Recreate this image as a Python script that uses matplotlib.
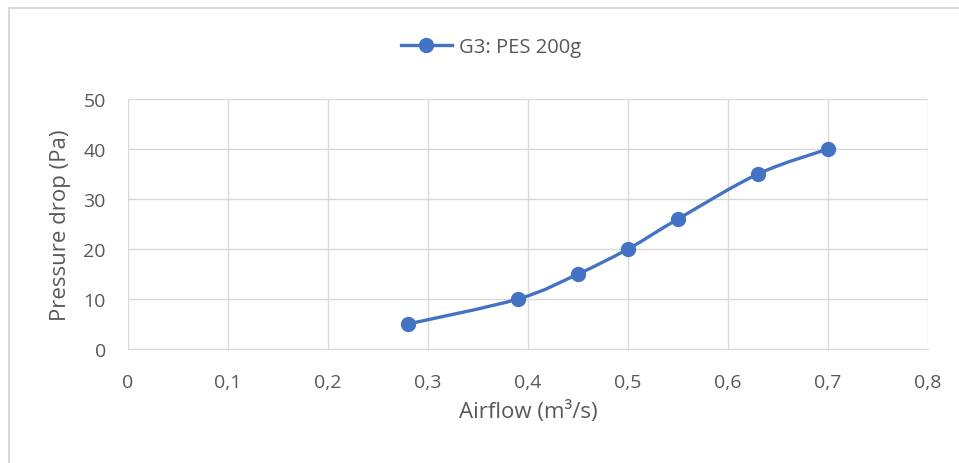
import numpy as np
import matplotlib
matplotlib.use("Agg")
import matplotlib.pyplot as plt
from matplotlib.path import Path
from matplotlib.patches import PathPatch
from matplotlib.lines import Line2D

airflow = [0.28, 0.39, 0.45, 0.50, 0.55, 0.63, 0.70]
pressure = [5, 10, 15, 20, 26, 35, 40]
series_name = "G3: PES 200g"
x_ticks = [0, 0.1, 0.2, 0.3, 0.4, 0.5, 0.6, 0.7, 0.8]
x_tick_labels = ["0", "0,1", "0,2", "0,3", "0,4", "0,5", "0,6", "0,7", "0,8"]
y_ticks = [0, 10, 20, 30, 40, 50]

plt.rcParams['font.family'] = ['Open Sans', 'DejaVu Sans']
BLUE = "#4472C4"
TXT = "#595959"
GRID = "#D9D9D9"

W, H = 959, 464
fig = plt.figure(figsize=(W / 100, H / 100), dpi=100)
ax = fig.add_axes([128 / W, 1 - 350 / H, 800 / W, 250 / H])

# Excel-like smoothed curve (Catmull-Rom as cubic Bezier)
pts = np.column_stack([airflow, pressure]).astype(float)
n = len(pts)
verts = [pts[0]]
codes = [Path.MOVETO]
for i in range(n - 1):
    p0 = pts[i - 1] if i > 0 else pts[i]
    p1 = pts[i]
    p2 = pts[i + 1]
    p3 = pts[i + 2] if i + 2 < n else pts[i + 1]
    c1 = p1 + (p2 - p0) / 6.0
    c2 = p2 - (p3 - p1) / 6.0
    verts += [c1, c2, p2]
    codes += [Path.CURVE4] * 3
ax.add_patch(PathPatch(Path(verts, codes), facecolor='none', edgecolor=BLUE,
                       lw=2.4, capstyle='round', joinstyle='round', zorder=3))
ax.plot(airflow, pressure, ls='none', marker='o', ms=10, color=BLUE, zorder=4)

ax.set_xlim(0, 0.8)
ax.set_ylim(0, 50)
ax.set_xticks(x_ticks)
ax.set_xticklabels(x_tick_labels)
ax.set_yticks(y_ticks)
ax.grid(True, color=GRID, lw=1)
ax.set_axisbelow(True)
for s in ax.spines.values():
    s.set_visible(False)
ax.spines['bottom'].set_visible(True)
ax.spines['bottom'].set_color(GRID)
ax.tick_params(length=0, labelsize=14, labelcolor=TXT)
ax.tick_params(axis='y', pad=16)
ax.tick_params(axis='x', pad=17)
ax.set_xlabel("Airflow (m³/s)", fontsize=16, color=TXT, labelpad=7)
ax.set_ylabel("Pressure drop (Pa)", fontsize=16, color=TXT, labelpad=9)

handle = Line2D([], [], color=BLUE, lw=2.4, marker='o', ms=10)
fig.legend([handle], [series_name], loc='center', bbox_to_anchor=(491 / W, 1 - 48 / H),
           frameon=False, fontsize=14.5, labelcolor=TXT, handlelength=2.5, handletextpad=0.35)

# chart border (left and top visible)
fig.add_artist(Line2D([8.5 / W, 8.5 / W], [0, 1 - 8.5 / H], color=GRID, lw=1.5))
fig.add_artist(Line2D([8.5 / W, 1], [1 - 8.5 / H, 1 - 8.5 / H], color=GRID, lw=1.5))

fig.savefig("out.png", dpi=100)
